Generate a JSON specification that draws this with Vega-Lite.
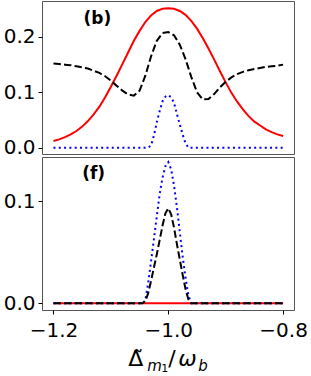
{
 "$schema": "https://vega.github.io/schema/vega-lite/v6.json",
 "padding": {"left": 2, "top": 0, "right": 5, "bottom": 0},
 "background": "white",
 "bounds": "flush",
 "spacing": 3,
 "config": {
   "view": {"stroke": "#555", "strokeWidth": 1},
   "axis": {"grid": false, "domain": false, "tickSize": 4, "tickColor": "#000", "labelFont": "DejaVu Sans", "labelFontSize": 20, "labelColor": "#000", "labelPadding": 3},
   "text": {"font": "DejaVu Sans", "color": "#000"}
 },
 "datasets": {
  "b": [
   {"x":-1.20,"s":"r","y":0.012},{"x":-1.19,"s":"r","y":0.015},{"x":-1.18,"s":"r","y":0.019},{"x":-1.17,"s":"r","y":0.024},{"x":-1.16,"s":"r","y":0.030},{"x":-1.15,"s":"r","y":0.038},{"x":-1.14,"s":"r","y":0.048},{"x":-1.13,"s":"r","y":0.060},{"x":-1.12,"s":"r","y":0.074},{"x":-1.11,"s":"r","y":0.091},{"x":-1.10,"s":"r","y":0.110},{"x":-1.09,"s":"r","y":0.130},{"x":-1.08,"s":"r","y":0.151},{"x":-1.07,"s":"r","y":0.172},{"x":-1.06,"s":"r","y":0.193},{"x":-1.05,"s":"r","y":0.211},{"x":-1.04,"s":"r","y":0.227},{"x":-1.03,"s":"r","y":0.239},{"x":-1.02,"s":"r","y":0.247},{"x":-1.01,"s":"r","y":0.251},{"x":-1.00,"s":"r","y":0.252},{"x":-0.99,"s":"r","y":0.251},{"x":-0.98,"s":"r","y":0.247},{"x":-0.97,"s":"r","y":0.240},{"x":-0.96,"s":"r","y":0.229},{"x":-0.95,"s":"r","y":0.215},{"x":-0.94,"s":"r","y":0.198},{"x":-0.93,"s":"r","y":0.179},{"x":-0.92,"s":"r","y":0.159},{"x":-0.91,"s":"r","y":0.138},{"x":-0.90,"s":"r","y":0.118},{"x":-0.89,"s":"r","y":0.099},{"x":-0.88,"s":"r","y":0.083},{"x":-0.87,"s":"r","y":0.069},{"x":-0.86,"s":"r","y":0.057},{"x":-0.85,"s":"r","y":0.047},{"x":-0.84,"s":"r","y":0.040},{"x":-0.83,"s":"r","y":0.033},{"x":-0.82,"s":"r","y":0.028},{"x":-0.81,"s":"r","y":0.024},{"x":-0.80,"s":"r","y":0.021},
   {"x":-1.20,"s":"k","y":0.152},{"x":-1.19,"s":"k","y":0.151},{"x":-1.18,"s":"k","y":0.150},{"x":-1.17,"s":"k","y":0.149},{"x":-1.16,"s":"k","y":0.147},{"x":-1.15,"s":"k","y":0.145},{"x":-1.14,"s":"k","y":0.143},{"x":-1.13,"s":"k","y":0.139},{"x":-1.12,"s":"k","y":0.135},{"x":-1.11,"s":"k","y":0.129},{"x":-1.10,"s":"k","y":0.121},{"x":-1.09,"s":"k","y":0.112},{"x":-1.08,"s":"k","y":0.103},{"x":-1.07,"s":"k","y":0.096},{"x":-1.06,"s":"k","y":0.094},{"x":-1.05,"s":"k","y":0.103},{"x":-1.04,"s":"k","y":0.130},{"x":-1.03,"s":"k","y":0.165},{"x":-1.02,"s":"k","y":0.193},{"x":-1.01,"s":"k","y":0.207},{"x":-1.00,"s":"k","y":0.209},{"x":-0.99,"s":"k","y":0.203},{"x":-0.98,"s":"k","y":0.186},{"x":-0.97,"s":"k","y":0.160},{"x":-0.96,"s":"k","y":0.128},{"x":-0.95,"s":"k","y":0.100},{"x":-0.94,"s":"k","y":0.087},{"x":-0.93,"s":"k","y":0.088},{"x":-0.92,"s":"k","y":0.097},{"x":-0.91,"s":"k","y":0.109},{"x":-0.90,"s":"k","y":0.119},{"x":-0.89,"s":"k","y":0.127},{"x":-0.88,"s":"k","y":0.133},{"x":-0.87,"s":"k","y":0.137},{"x":-0.86,"s":"k","y":0.140},{"x":-0.85,"s":"k","y":0.142},{"x":-0.84,"s":"k","y":0.144},{"x":-0.83,"s":"k","y":0.146},{"x":-0.82,"s":"k","y":0.147},{"x":-0.81,"s":"k","y":0.148},{"x":-0.80,"s":"k","y":0.150},
   {"x":-1.20,"s":"bl","y":0},{"x":-1.035,"s":"bl","y":0},{"x":-1.03,"s":"bl","y":0.004},{"x":-1.025,"s":"bl","y":0.022},{"x":-1.02,"s":"bl","y":0.046},{"x":-1.015,"s":"bl","y":0.066},{"x":-1.01,"s":"bl","y":0.084},{"x":-1.005,"s":"bl","y":0.092},{"x":-1.0,"s":"bl","y":0.095},{"x":-0.995,"s":"bl","y":0.091},{"x":-0.99,"s":"bl","y":0.081},{"x":-0.985,"s":"bl","y":0.061},{"x":-0.98,"s":"bl","y":0.042},{"x":-0.975,"s":"bl","y":0.024},{"x":-0.97,"s":"bl","y":0.008},{"x":-0.965,"s":"bl","y":0},{"x":-0.80,"s":"bl","y":0}
  ],
  "f": [
   {"x":-1.20,"s":"r","y":0},{"x":-0.80,"s":"r","y":0},
   {"x":-1.20,"s":"bl","y":0},{"x":-1.045,"s":"bl","y":0},{"x":-1.04,"s":"bl","y":0.003},{"x":-1.035,"s":"bl","y":0.020},{"x":-1.03,"s":"bl","y":0.041},{"x":-1.025,"s":"bl","y":0.063},{"x":-1.02,"s":"bl","y":0.085},{"x":-1.015,"s":"bl","y":0.107},{"x":-1.01,"s":"bl","y":0.123},{"x":-1.005,"s":"bl","y":0.134},{"x":-1.0,"s":"bl","y":0.138},{"x":-0.995,"s":"bl","y":0.131},{"x":-0.99,"s":"bl","y":0.115},{"x":-0.985,"s":"bl","y":0.094},{"x":-0.98,"s":"bl","y":0.070},{"x":-0.975,"s":"bl","y":0.046},{"x":-0.97,"s":"bl","y":0.025},{"x":-0.965,"s":"bl","y":0.008},{"x":-0.96,"s":"bl","y":0},{"x":-0.80,"s":"bl","y":0},
   {"x":-1.20,"s":"k","y":0},{"x":-1.045,"s":"k","y":0},{"x":-1.04,"s":"k","y":0.002},{"x":-1.035,"s":"k","y":0.010},{"x":-1.03,"s":"k","y":0.022},{"x":-1.025,"s":"k","y":0.035},{"x":-1.02,"s":"k","y":0.048},{"x":-1.015,"s":"k","y":0.062},{"x":-1.01,"s":"k","y":0.076},{"x":-1.005,"s":"k","y":0.088},{"x":-1.0,"s":"k","y":0.093},{"x":-0.995,"s":"k","y":0.087},{"x":-0.99,"s":"k","y":0.074},{"x":-0.985,"s":"k","y":0.058},{"x":-0.98,"s":"k","y":0.043},{"x":-0.975,"s":"k","y":0.028},{"x":-0.97,"s":"k","y":0.014},{"x":-0.965,"s":"k","y":0.004},{"x":-0.96,"s":"k","y":0},{"x":-0.80,"s":"k","y":0}
  ]
 },
 "vconcat": [
  {
   "width": 252, "height": 153,
   "layer": [
    {"data": {"name": "b"}, "transform": [{"filter": "datum.s === 'r'"}], "mark": {"type": "line", "color": "#ff0000", "strokeWidth": 2},
     "encoding": {
      "x": {"field": "x", "type": "quantitative", "scale": {"domain": [-1.22, -0.781], "nice": false, "zero": false}, "axis": null},
      "y": {"field": "y", "type": "quantitative", "scale": {"domain": [-0.0115, 0.265], "nice": false, "zero": false}, "axis": {"values": [0, 0.1, 0.2], "format": ".1f", "title": null}}}},
    {"data": {"name": "b"}, "transform": [{"filter": "datum.s === 'bl'"}], "mark": {"type": "line", "color": "#0000ff", "strokeWidth": 2, "strokeDash": [2, 3.3]},
     "encoding": {"x": {"field": "x", "type": "quantitative"}, "y": {"field": "y", "type": "quantitative"}}},
    {"data": {"name": "b"}, "transform": [{"filter": "datum.s === 'k'"}], "mark": {"type": "line", "color": "#000000", "strokeWidth": 2, "strokeDash": [7.4, 3.2]},
     "encoding": {"x": {"field": "x", "type": "quantitative"}, "y": {"field": "y", "type": "quantitative"}}},
    {"data": {"values": [{"label": "(b)"}]}, "mark": {"type": "text", "fontWeight": "bold", "fontSize": 17, "align": "center", "baseline": "middle"},
     "encoding": {"x": {"datum": -1.1235, "type": "quantitative"}, "y": {"datum": 0.233, "type": "quantitative"}, "text": {"field": "label"}}}
   ]
  },
  {
   "width": 252, "height": 153,
   "layer": [
    {"data": {"name": "f"}, "transform": [{"filter": "datum.s === 'r'"}], "mark": {"type": "line", "color": "#ff0000", "strokeWidth": 2},
     "encoding": {
      "x": {"field": "x", "type": "quantitative", "scale": {"domain": [-1.22, -0.781], "nice": false, "zero": false}, "axis": {"values": [-1.2, -1.0, -0.8], "format": ".1f", "title": null, "labelPadding": 6}},
      "y": {"field": "y", "type": "quantitative", "scale": {"domain": [-0.0065, 0.143], "nice": false, "zero": false}, "axis": {"values": [0, 0.1], "format": ".1f", "title": null}}}},
    {"data": {"name": "f"}, "transform": [{"filter": "datum.s === 'bl'"}], "mark": {"type": "line", "color": "#0000ff", "strokeWidth": 2, "strokeDash": [2, 3.3]},
     "encoding": {"x": {"field": "x", "type": "quantitative"}, "y": {"field": "y", "type": "quantitative"}}},
    {"data": {"name": "f"}, "transform": [{"filter": "datum.s === 'k'"}], "mark": {"type": "line", "color": "#000000", "strokeWidth": 2, "strokeDash": [7.4, 3.2]},
     "encoding": {"x": {"field": "x", "type": "quantitative"}, "y": {"field": "y", "type": "quantitative"}}},
    {"data": {"values": [{"label": "(f)"}]}, "mark": {"type": "text", "fontWeight": "bold", "fontSize": 17, "align": "center", "baseline": "middle"},
     "encoding": {"x": {"datum": -1.13, "type": "quantitative"}, "y": {"datum": 0.126, "type": "quantitative"}, "text": {"field": "label"}}},
    {"data": {"values": [{"t": "Δ̃"}]}, "mark": {"type": "text", "fontSize": 22, "align": "left", "baseline": "alphabetic"},
     "encoding": {"x": {"datum": -1.0696, "type": "quantitative"}, "y": {"datum": -0.0611, "type": "quantitative"}, "text": {"field": "t"}}},
    {"data": {"values": [{"t": "m"}]}, "mark": {"type": "text", "fontSize": 15, "fontStyle": "italic", "align": "left", "baseline": "alphabetic"},
     "encoding": {"x": {"datum": -1.0365, "type": "quantitative"}, "y": {"datum": -0.066, "type": "quantitative"}, "text": {"field": "t"}}},
    {"data": {"values": [{"t": "1"}]}, "mark": {"type": "text", "fontSize": 11, "align": "left", "baseline": "alphabetic"},
     "encoding": {"x": {"datum": -1.0122, "type": "quantitative"}, "y": {"datum": -0.0675, "type": "quantitative"}, "text": {"field": "t"}}},
    {"data": {"values": [{"t": "/"}]}, "mark": {"type": "text", "fontSize": 22, "align": "left", "baseline": "alphabetic"},
     "encoding": {"x": {"datum": -1.0, "type": "quantitative"}, "y": {"datum": -0.0611, "type": "quantitative"}, "text": {"field": "t"}}},
    {"data": {"values": [{"t": "ω"}]}, "mark": {"type": "text", "fontSize": 22, "fontStyle": "italic", "align": "left", "baseline": "alphabetic"},
     "encoding": {"x": {"datum": -0.9826, "type": "quantitative"}, "y": {"datum": -0.0611, "type": "quantitative"}, "text": {"field": "t"}}},
    {"data": {"values": [{"t": "b"}]}, "mark": {"type": "text", "fontSize": 15, "fontStyle": "italic", "align": "left", "baseline": "alphabetic"},
     "encoding": {"x": {"datum": -0.9478, "type": "quantitative"}, "y": {"datum": -0.066, "type": "quantitative"}, "text": {"field": "t"}}}
   ]
  }
 ]
}
